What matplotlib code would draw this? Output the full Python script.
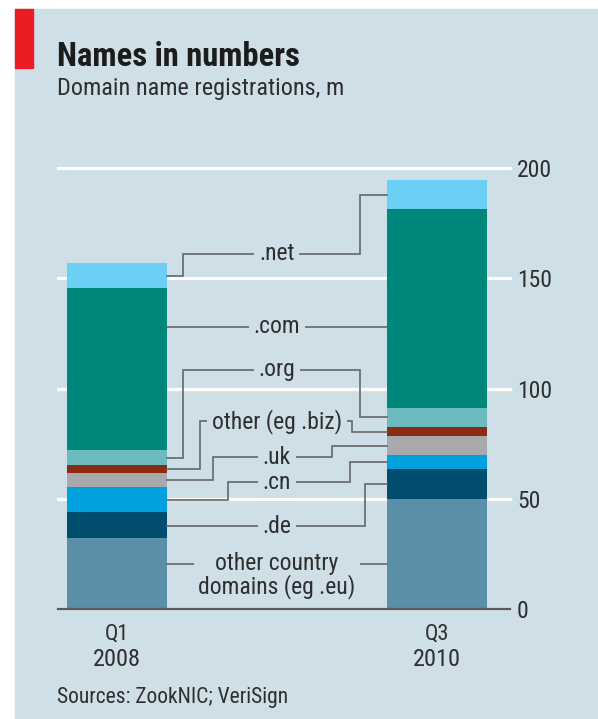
import matplotlib
matplotlib.use('Agg')
import matplotlib.pyplot as plt
from matplotlib import font_manager
from matplotlib.patches import Rectangle

# domain name registrations, millions (bottom of the stack first)
periods = ['Q1', 'Q3']
years = ['2008', '2010']
segments = ['other country\ndomains (eg .eu)', '.de', '.cn', '.uk',
            'other (eg .biz)', '.org', '.com', '.net']
q1_2008 = [32.4, 11.6, 11.3, 6.4, 3.8, 6.4, 73.5, 11.3]
q3_2010 = [49.8, 13.5, 6.4, 8.6, 4.3, 8.7, 90.0, 13.3]
y_ticks = [0, 50, 100, 150, 200]

colors = ['#5b8fa8', '#004d6d', '#00a1de', '#a7a9ac',
          '#8a2b12', '#6cbcbf', '#00877b', '#6ccff6']

# where the labels sit in the gap and where the leader lines bend
line_y = [20.4, 37.6, 57.5, 68.8, 85.1, 108.6, 128.0, 161.0]
text_dy = [-5.0, 0, 0, 0, 0, 0, 0, 0]
left_bend = [0.2, 0.2, 0.347, 0.30, 0.259, 0.206, 0.2, 0.206]
right_bend = [0.8, 0.775, 0.728, 0.672, 0.734, 0.759, 0.8, 0.759]

bg = '#cfdfe8'
txt = '#2e2e2e'
W, H = 598, 719


def pick_font(names):
    for n in names:
        try:
            font_manager.findfont(font_manager.FontProperties(family=n),
                                  fallback_to_default=False)
            return n
        except ValueError:
            continue
    return 'DejaVu Sans'


font = pick_font(['Liberation Sans Narrow', 'Roboto Condensed', 'Roboto', 'Liberation Sans'])
plt.rcParams['font.family'] = [font, 'DejaVu Sans']

fig = plt.figure(figsize=(W / 100, H / 100), dpi=100, facecolor='white')

# panel and red tag
fig.patches.append(Rectangle((15 / W, 1 - 718 / H), 1 - 15 / W, (718 - 9) / H,
                             transform=fig.transFigure, color=bg, zorder=-5))
fig.patches.append(Rectangle((15 / W, 1 - 68 / H), 18 / W, 59 / H,
                             transform=fig.transFigure, color='#ec1c24', zorder=-4))

fig.text(57 / W, 1 - 66 / H, 'Names in numbers', fontsize=23.5, fontweight='bold',
         color='#1c1c1c', va='baseline')
fig.text(57 / W, 1 - 95 / H, 'Domain name registrations, m', fontsize=17.5,
         color=txt, va='baseline')
fig.text(57 / W, 1 - 703 / H, 'Sources: ZookNIC; VeriSign', fontsize=15.5,
         color=txt, va='baseline')

ax = fig.add_axes([58 / W, 1 - 609 / H, (510 - 58) / W, (609 - 168) / H])
ax.set_zorder(2)
ax.set_facecolor('none')
ax.set_xlim(-0.184, 1.228)
ax.set_ylim(0, 200)
for s in ax.spines.values():
    s.set_visible(False)

for t in y_ticks[1:]:
    ax.axhline(t, color='white', lw=2.3, zorder=1, clip_on=False)
ax.axhline(0, color='#5a5a5a', lw=1.6, zorder=4, clip_on=False)

ax.yaxis.tick_right()
ax.set_yticks(y_ticks)
ax.tick_params(axis='y', length=0, pad=5, labelsize=17, labelcolor=txt)
ax.set_xticks([])

bar_w = 0.3125
xs = [0, 1]
for i, vals in enumerate([q1_2008, q3_2010]):
    bottom = 0
    for v, c in zip(vals, colors):
        ax.bar(xs[i], v, bottom=bottom, width=bar_w, color=c, zorder=2, linewidth=0)
        bottom += v

for i, per in enumerate(periods):
    ax.annotate(per, (xs[i], 1 - 634 / H), xycoords=('data', 'figure fraction'),
                ha='center', va='center', fontsize=16, color=txt)
    ax.annotate(years[i], (xs[i], 1 - 660 / H), xycoords=('data', 'figure fraction'),
                ha='center', va='center', fontsize=17.5, color=txt)


def anchor(vals, k, y):
    lo = sum(vals[:k])
    hi = lo + vals[k]
    if lo + 1 <= y <= hi - 1:
        return y
    return (lo + hi) / 2


mid = 0.5
edge_l = xs[0] + bar_w / 2
edge_r = xs[1] - bar_w / 2
line_c = '#666666'
for k, name in enumerate(segments):
    y = line_y[k]
    yl = anchor(q1_2008, k, y)
    yr = anchor(q3_2010, k, y)
    ax.plot([edge_l, left_bend[k], left_bend[k], mid], [yl, yl, y, y],
            color=line_c, lw=1.2, zorder=3, solid_joinstyle='miter')
    ax.plot([mid, right_bend[k], right_bend[k], edge_r], [y, y, yr, yr],
            color=line_c, lw=1.2, zorder=3, solid_joinstyle='miter')
    ax.text(mid, y + text_dy[k], name, ha='center', va='center', fontsize=17,
            color=txt, linespacing=0.95, zorder=5,
            bbox=dict(boxstyle='square,pad=0.2', fc=bg, ec='none'))

fig.savefig('out.png', dpi=100, facecolor='white')
